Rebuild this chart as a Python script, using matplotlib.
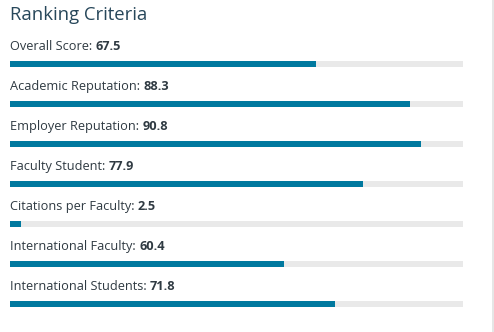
import matplotlib.pyplot as plt

# criterios e pontuacoes
criteria = ["Overall Score", "Academic Reputation", "Employer Reputation",
            "Faculty Student", "Citations per Faculty", "International Faculty",
            "International Students"]
scores = [67.5, 88.3, 90.8, 77.9, 2.5, 60.4, 71.8]
max_score = 100

W, H = 494, 332
fig = plt.figure(figsize=(W / 100, H / 100), dpi=100)

# eixo cobrindo a largura das barras (x de 10 a 463 px), y em pixels
ax = fig.add_axes([10 / W, 0, 453 / W, 1])
ax.set_xlim(0, max_score)
ax.set_ylim(H, 0)
ax.axis("off")

bar_color = "#00799f"
track_color = "#e9e9e9"
text_color = "#2f3a42"

rows = list(range(len(criteria)))
centers = [64 + 40 * i for i in rows]
baselines = [50 + 40 * i for i in rows]

ax.barh(centers, [max_score] * len(rows), height=6, color=track_color, left=0)
ax.barh(centers, scores, height=6, color=bar_color, left=0)

for name, score, yb in zip(criteria, scores, baselines):
    t = ax.text(0, yb, name + ": ", fontsize=9.2, family="Open Sans",
                color=text_color, va="baseline", ha="left")
    ax.annotate(f"{score}", xy=(1, 0), xycoords=t, fontsize=9.2,
                family="Open Sans", fontweight="bold", color=text_color,
                va="bottom", ha="left")

ax.text(0, 20, "Ranking Criteria", fontsize=13.3, family="Open Sans",
        color="#27475a", va="baseline", ha="left")

# linha vertical na borda direita
fig.add_artist(plt.Line2D([492.5 / W, 492.5 / W], [0, 1], color="#e2e2e2",
                          linewidth=1.2, transform=fig.transFigure))

fig.savefig("out.png", dpi=100)
